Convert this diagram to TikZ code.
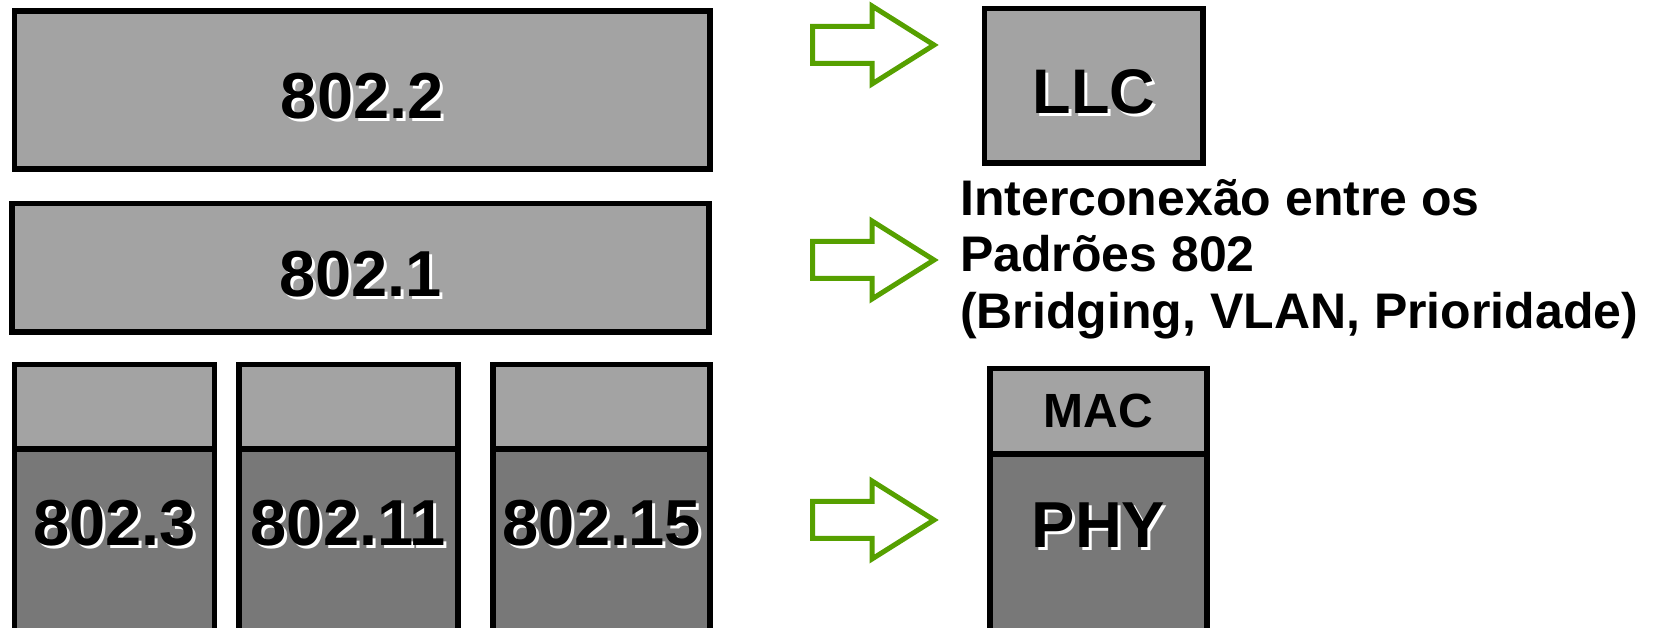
\documentclass[tikz,border=0pt]{standalone}
\usepackage{fontspec}
\setmainfont{Liberation Sans}
\usepackage{tikz}
\usetikzlibrary{positioning}
\definecolor{paleslab}{RGB}{163,163,163}
\definecolor{darkslab}{RGB}{120,120,120}
\definecolor{leafgreen}{RGB}{86,160,0}
\newcommand{\shtxt}[1]{\raisebox{-6pt}[\height][\depth]{\makebox[0pt][l]{\kern3pt\raisebox{-3pt}[0pt][0pt]{\color{white}#1}}#1}}

\begin{document}
\begin{tikzpicture}[
    x=1pt, y=1pt,
    node distance=35pt,
    slab/.style={draw, line width=5.7pt, fill=paleslab, inner sep=0pt, outer sep=0pt},
    physlab/.style={slab, fill=darkslab},
    numtxt/.style={font=\fontsize{65}{70}\selectfont\bfseries},
    blk/.style={draw=leafgreen, line width=5pt, fill=white, line join=miter}
]
\path[use as bounding box] (0,0) rectangle (1656,628);
\clip (0,0) rectangle (1656,628);

\node[slab, numtxt, minimum width=695.7pt, minimum height=157.6pt] (s22) at (362.3,538) {\shtxt{802.2}};
\node[slab, numtxt, minimum width=696.6pt, minimum height=128.7pt, below=34.7pt of s22, xshift=-1.8pt] (s21) {\shtxt{802.1}};

\node[slab, minimum width=200pt, minimum height=84.5pt, below=32.3pt of s21.south west, anchor=north west, xshift=2.3pt] (m3) {};
\node[slab, minimum width=219pt, minimum height=84.5pt, right=24.4pt of m3] (m11) {};
\node[slab, minimum width=217pt, minimum height=84.5pt, right=35pt of m11] (m15) {};
\foreach \c/\w in {3/200,11/219,15/217} {
  \node[physlab, minimum width=\w*1pt, minimum height=250pt, below=0pt of m\c] (d\c) {};
  \node[numtxt] (t\c) at ([yshift=-68pt]d\c.north) {\shtxt{802.\c}};
}

\node[slab, font=\fontsize{63}{68}\selectfont\bfseries, minimum width=218.7pt, minimum height=154.7pt] (llc) at (1093.9,542.15) {\shtxt{LLC}};
\node[slab, font=\fontsize{48}{52}\selectfont\bfseries, minimum width=217.4pt, minimum height=85.5pt] (mac) at (1098.5,216.75) {MAC};
\node[physlab, minimum width=217.4pt, minimum height=250pt, below=0pt of mac] (phy) {};
\node[numtxt] (phytxt) at ([yshift=-65.4pt]phy.north) {\shtxt{PHY}};

\node[anchor=north west, align=left, inner sep=0pt, font=\fontsize{50}{56.5}\selectfont\bfseries] (bridging) at (960,449)
     {Interconexão entre os\\Padrões 802\\(Bridging, VLAN, Prioridade)};

\foreach \ya in {583,368,108}
  \draw[blk] (812.5,\ya) -- ++(0,18.5) -- ++(59.5,0) -- ++(0,20.5) -- ++(62,-39)
             -- ++(-62,-39) -- ++(0,20.5) -- ++(-59.5,0) -- cycle;
\end{tikzpicture}
\end{document}
